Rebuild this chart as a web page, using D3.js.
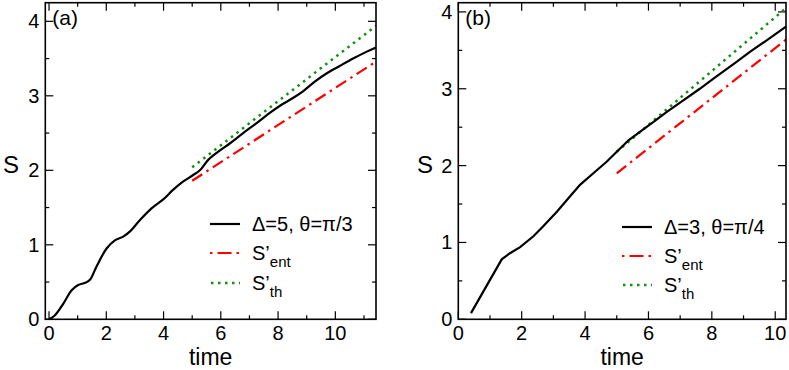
<!DOCTYPE html>
<html>
<head>
<meta charset="utf-8">
<script src="https://cdn.jsdelivr.net/npm/d3@7"></script>
<style>
  body { margin: 0; background: #fff; }
  svg text { font-family: "Liberation Sans", Arial, sans-serif; fill: #000; }
</style>
</head>
<body>
<div id="chart"></div>
<script>
// panel (a): Δ=5, θ=π/3
const timeA = [0, 0.2, 0.5, 0.79, 1.02, 1.26, 1.43, 1.66, 2.01, 2.3, 2.59, 2.83, 3.17, 3.58, 3.99, 4.34, 4.69, 5.01, 5.27, 5.56, 5.91, 6.31, 6.78, 7.24, 7.71, 8.12, 8.52, 8.87, 9.28, 9.69, 10.15, 10.62, 11.08, 11.42]
const sA = [0, 0.05, 0.21, 0.39, 0.46, 0.49, 0.53, 0.71, 0.95, 1.06, 1.11, 1.18, 1.33, 1.49, 1.61, 1.74, 1.85, 1.93, 2.0, 2.14, 2.25, 2.36, 2.5, 2.63, 2.77, 2.88, 2.97, 3.06, 3.19, 3.3, 3.4, 3.5, 3.59, 3.65]
const entA = [[5.0, 1.86], [11.42, 3.46]]
const thA = [[5.0, 2.04], [11.42, 3.94]]

// panel (b): Δ=3, θ=π/4
const timeB = [0.4, 1.37, 1.63, 1.95, 2.37, 2.68, 3.11, 3.42, 3.84, 4.37, 4.68, 5.0, 5.37, 5.73, 6.16, 6.58, 7.1, 7.62, 8.04, 8.41, 8.78, 9.2, 9.73, 10.34]
const sB = [0.08, 0.78, 0.86, 0.94, 1.08, 1.21, 1.4, 1.55, 1.75, 1.94, 2.05, 2.18, 2.33, 2.44, 2.57, 2.7, 2.85, 3.0, 3.13, 3.24, 3.35, 3.48, 3.63, 3.81]
const entB = [[5.0, 1.9], [10.34, 3.64]]
const thB = [[5.0, 2.18], [10.34, 4.05]]

const xTicks = [0, 2, 4, 6, 8, 10]
const yTicks = [0, 1, 2, 3, 4]

const svg = d3.select('#chart').append('svg')
  .attr('width', 789)
  .attr('height', 370)

function drawPanel(p) {
  const x = d3.scaleLinear().domain(p.xDomain).range([p.left, p.right])
  const y = d3.scaleLinear().domain(p.yDomain).range([p.bottom, p.top])
  const g = svg.append('g')

  const minorX = d3.range(0, p.xDomain[1], 1).filter(v => v % 2 != 0)
  const minorY = d3.range(0.5, p.yDomain[1], 1)

  // ticks, pointing inward on all four sides
  const tk = g.append('g').attr('stroke', '#000').attr('stroke-width', 1.2)
  xTicks.concat(minorX).forEach(v => {
    const len = xTicks.includes(v) ? 8 : 4
    tk.append('line').attr('x1', x(v)).attr('x2', x(v)).attr('y1', p.bottom).attr('y2', p.bottom - len)
    tk.append('line').attr('x1', x(v)).attr('x2', x(v)).attr('y1', p.top).attr('y2', p.top + len)
  })
  yTicks.concat(minorY).forEach(v => {
    const len = yTicks.includes(v) ? 8 : 4
    tk.append('line').attr('y1', y(v)).attr('y2', y(v)).attr('x1', p.left).attr('x2', p.left + len)
    tk.append('line').attr('y1', y(v)).attr('y2', y(v)).attr('x1', p.right).attr('x2', p.right - len)
  })

  g.selectAll('.xl').data(xTicks).enter().append('text')
    .attr('x', d => x(d)).attr('y', p.bottom + 21)
    .attr('text-anchor', 'middle').attr('font-size', 20)
    .text(d => d)
  g.selectAll('.yl').data(yTicks).enter().append('text')
    .attr('x', p.left - 6).attr('y', d => y(d) + 7)
    .attr('text-anchor', 'end').attr('font-size', 20)
    .text(d => d)

  g.append('text').attr('x', (p.left + p.right) / 2).attr('y', 365)
    .attr('text-anchor', 'middle').attr('font-size', 23).text('time')
  g.append('text').attr('x', p.sx).attr('y', 173)
    .attr('font-size', 24).text('S')
  g.append('text').attr('x', p.left + 7).attr('y', p.top + 22)
    .attr('font-size', 21).text(p.tag)

  const line = d3.line().x(d => x(d[0])).y(d => y(d[1]))

  g.append('path').datum(p.th)
    .attr('d', line).attr('fill', 'none')
    .attr('stroke', '#109010').attr('stroke-width', 2.5)
    .attr('stroke-dasharray', '2.5,4.5')
  g.append('path').datum(p.ent)
    .attr('d', line).attr('fill', 'none')
    .attr('stroke', '#ff0000').attr('stroke-width', 2.2)
    .attr('stroke-dasharray', '12,5,2.5,5')
  g.append('path').datum(d3.zip(p.time, p.s))
    .attr('d', line.curve(p.curve)).attr('fill', 'none')
    .attr('stroke', '#000').attr('stroke-width', 2.2)

  // frame
  g.append('rect')
    .attr('x', p.left).attr('y', p.top)
    .attr('width', p.right - p.left).attr('height', p.bottom - p.top)
    .attr('fill', 'none').attr('stroke', '#000').attr('stroke-width', 1.6)

  // legend
  const lg = g.append('g')
  const L = p.legend
  lg.append('line').attr('x1', L.x).attr('x2', L.x + 30).attr('y1', L.rows[0]).attr('y2', L.rows[0])
    .attr('stroke', '#000').attr('stroke-width', 2.2)
  lg.append('line').attr('x1', L.x).attr('x2', L.x + 30).attr('y1', L.rows[1]).attr('y2', L.rows[1])
    .attr('stroke', '#ff0000').attr('stroke-width', 2.2).attr('stroke-dasharray', '2.5,5,14,5,2.5')
  lg.append('line').attr('x1', L.x + 1).attr('x2', L.x + 30).attr('y1', L.rows[2]).attr('y2', L.rows[2])
    .attr('stroke', '#109010').attr('stroke-width', 2.5).attr('stroke-dasharray', '2.5,4.5')

  lg.append('text').attr('x', L.x + 42).attr('y', L.rows[0] + 7)
    .attr('font-size', 20).text(p.label)
  ;['ent', 'th'].forEach((sub, i) => {
    const t = lg.append('text').attr('x', L.x + 42).attr('y', L.rows[i + 1] + 7).attr('font-size', 20)
    t.append('tspan').text('S\u2019')
    t.append('tspan').attr('font-size', 15).attr('dy', 7).text(sub)
  })
}

drawPanel({
  left: 45.3, right: 376, top: 2.7, bottom: 319.3,
  xDomain: [-0.13, 11.42], yDomain: [0, 4.25],
  time: timeA, s: sA, ent: entA, th: thA,
  curve: d3.curveCatmullRom, tag: '(a)', sx: 3,
  label: '\u0394=5, \u03b8=\u03c0/3',
  legend: { x: 210, rows: [224, 253, 283] }
})

drawPanel({
  left: 458.3, right: 786, top: 2.7, bottom: 319.3,
  xDomain: [0, 10.34], yDomain: [0, 4.12],
  time: timeB, s: sB, ent: entB, th: thB,
  curve: d3.curveLinear, tag: '(b)', sx: 417,
  label: '\u0394=3, \u03b8=\u03c0/4',
  legend: { x: 622, rows: [227, 256, 285] }
})
</script>
</body>
</html>
